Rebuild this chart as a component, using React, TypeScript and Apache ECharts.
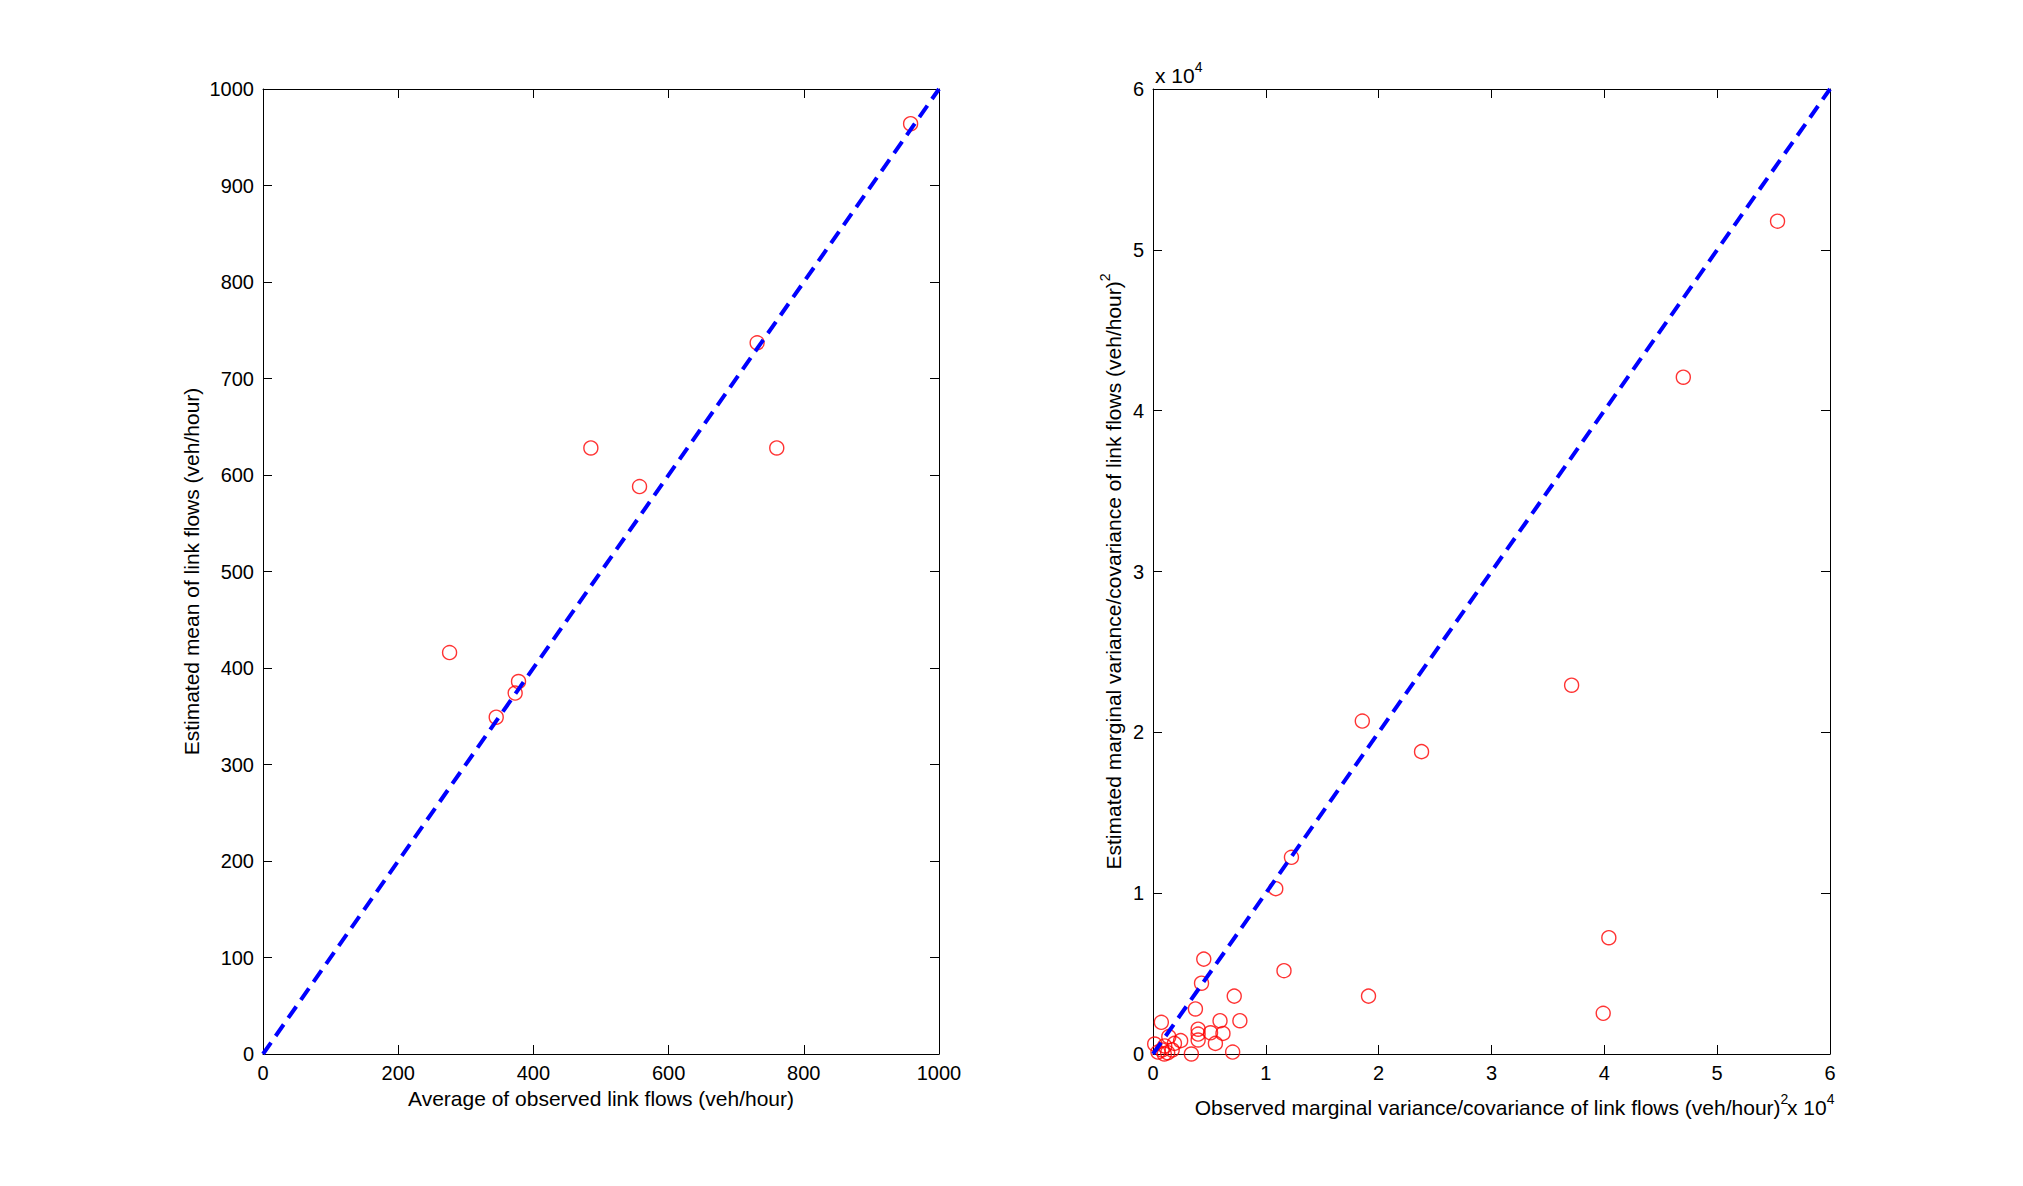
import React, { useEffect, useRef } from "react";
import * as echarts from "echarts";

// Left panel: mean of link flows (veh/hour)
const observedMean = [958, 731, 760, 485, 557, 276, 378, 373, 345];
const estimatedMean = [964, 737, 628, 628, 588, 416, 386, 374, 349];

// Right panel: marginal variance/covariance of link flows ((veh/hour)^2)
const observedVar = [
  55350, 47000, 37100, 18550, 23800, 12270, 10880, 11610, 19100, 40400, 39900,
  4500, 4300, 7200, 3760, 740, 5940, 7700, 4000, 4000, 5100, 6200, 4000, 5530,
  2450, 1400, 1900, 150, 1040, 800, 1300, 3400, 7060, 440, 1700, 1000,
];
const estimatedVar = [
  51780, 42080, 22930, 20700, 18800, 12230, 10280, 5180, 3600, 7230, 2530,
  5900, 4400, 3600, 2800, 1970, 2070, 2070, 1540, 1240, 1320, 1280, 870, 660,
  830, 1080, 660, 620, 500, 250, 80, 0, 120, 120, 250, 0,
];

const meanMax = 1000;
const meanXStep = 200;
const meanYStep = 100;
const varMax = 60000;
const varStep = 10000;
const varScale = 10000;

const leftXName = "Average of observed link flows (veh/hour)";
const leftYName = "Estimated mean of link flows (veh/hour)";
const rightXName = "Observed marginal variance/covariance of link flows (veh/hour)";
const rightYName = "Estimated marginal variance/covariance of link flows (veh/hour)";

const FONT = '"Liberation Sans", Arial, Helvetica, sans-serif';
const NAME_SIZE = 21;
const TICK_SIZE = 20;

export default function App() {
  const ref = useRef<HTMLDivElement>(null);

  useEffect(() => {
    if (!ref.current) return;
    const chart = echarts.init(ref.current, undefined, { renderer: "svg" });

    const supRich = {
      sup: {
        fontSize: 14,
        fontFamily: FONT,
        color: "#000",
        verticalAlign: "top",
        lineHeight: 14,
      },
    };

    const baseAxis = (gridIndex: number, max: number, step: number, showLabel: boolean, fmt: (v: number) => string) => ({
      gridIndex,
      type: "value",
      min: 0,
      max,
      interval: step,
      axisLine: { show: true, onZero: false, lineStyle: { color: "#000", width: 1 } },
      axisTick: { show: true, inside: true, length: 9, lineStyle: { color: "#000", width: 1 } },
      splitLine: { show: false },
      axisLabel: {
        show: showLabel,
        fontSize: TICK_SIZE,
        fontFamily: FONT,
        color: "#000",
        margin: 9,
        formatter: fmt,
      },
    });

    const meanFmt = (v: number) => String(v);
    const varFmt = (v: number) => String(v / varScale);

    const option: any = {
      animation: false,
      backgroundColor: "#fff",
      grid: [
        { left: 263, top: 89, width: 676, height: 965 },
        { left: 1153, top: 89, width: 677, height: 965 },
      ],
      xAxis: [
        {
          ...baseAxis(0, meanMax, meanXStep, true, meanFmt),
          position: "bottom",
          name: leftXName,
          nameLocation: "middle",
          nameGap: 33,
          nameTextStyle: { fontSize: NAME_SIZE, fontFamily: FONT, color: "#000" },
        },
        { ...baseAxis(0, meanMax, meanXStep, false, meanFmt), position: "top" },
        {
          ...baseAxis(1, varMax, varStep, true, varFmt),
          position: "bottom",
          name: rightXName + "{sup|2}",
          nameLocation: "middle",
          nameGap: 38,
          nameTextStyle: { fontSize: NAME_SIZE, fontFamily: FONT, color: "#000", lineHeight: 30, rich: supRich },
        },
        { ...baseAxis(1, varMax, varStep, false, varFmt), position: "top" },
      ],
      yAxis: [
        {
          ...baseAxis(0, meanMax, meanYStep, true, meanFmt),
          position: "left",
          name: leftYName,
          nameLocation: "middle",
          nameGap: 61,
          nameTextStyle: { fontSize: NAME_SIZE, fontFamily: FONT, color: "#000" },
        },
        { ...baseAxis(0, meanMax, meanYStep, false, meanFmt), position: "right" },
        {
          ...baseAxis(1, varMax, varStep, true, varFmt),
          position: "left",
          name: rightYName + "{sup|2}",
          nameLocation: "middle",
          nameGap: 25,
          nameTextStyle: { fontSize: NAME_SIZE, fontFamily: FONT, color: "#000", lineHeight: 30, rich: supRich },
        },
        { ...baseAxis(1, varMax, varStep, false, varFmt), position: "right" },
      ],
      graphic: [
        {
          type: "text",
          x: 1155,
          y: 75,
          style: {
            text: "x 10{sup|4}",
            fontSize: NAME_SIZE,
            fontFamily: FONT,
            fill: "#000",
            lineHeight: 30,
            align: "left",
            textAlign: "left",
            verticalAlign: "middle",
            textVerticalAlign: "middle",
            rich: supRich,
          },
        },
        {
          type: "text",
          x: 1787,
          y: 1107,
          style: {
            text: "x 10{sup|4}",
            fontSize: NAME_SIZE,
            fontFamily: FONT,
            fill: "#000",
            lineHeight: 30,
            align: "left",
            textAlign: "left",
            verticalAlign: "middle",
            textVerticalAlign: "middle",
            rich: supRich,
          },
        },
      ],
      series: [
        {
          type: "scatter",
          xAxisIndex: 0,
          yAxisIndex: 0,
          symbol: "circle",
          symbolSize: 14,
          itemStyle: { color: "rgba(0,0,0,0)", borderColor: "#ff0000", borderWidth: 1.4 },
          data: observedMean.map((x, i) => [x, estimatedMean[i]]),
        },
        {
          type: "line",
          xAxisIndex: 0,
          yAxisIndex: 0,
          symbol: "none",
          lineStyle: { color: "#0000ff", width: 4, type: [14, 8] },
          data: [
            [0, 0],
            [meanMax, meanMax],
          ],
        },
        {
          type: "scatter",
          xAxisIndex: 2,
          yAxisIndex: 2,
          symbol: "circle",
          symbolSize: 14,
          itemStyle: { color: "rgba(0,0,0,0)", borderColor: "#ff0000", borderWidth: 1.4 },
          data: observedVar.map((x, i) => [x, estimatedVar[i]]),
        },
        {
          type: "line",
          xAxisIndex: 2,
          yAxisIndex: 2,
          symbol: "none",
          lineStyle: { color: "#0000ff", width: 4, type: [14, 8] },
          data: [
            [0, 0],
            [varMax, varMax],
          ],
        },
      ],
    };

    chart.setOption(option);
    return () => chart.dispose();
  }, []);

  return (
    <div
      ref={ref}
      style={{ position: "fixed", left: 0, top: 0, width: 2023, height: 1186, background: "#fff" }}
    />
  );
}
